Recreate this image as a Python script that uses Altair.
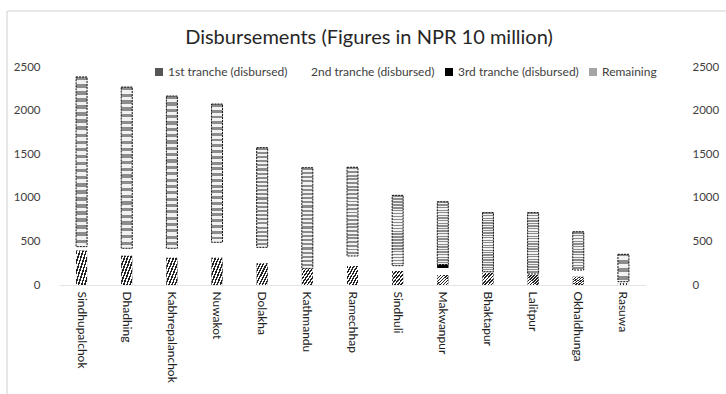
import altair as alt
import pandas as pd

districts = ["Sindhupalchok", "Dhadhing", "Kabhrepalanchok", "Nuwakot", "Dolakha",
             "Kathmandu", "Ramechhap", "Sindhuli", "Makwanpur", "Bhaktapur",
             "Lalitpur", "Okhaldhunga", "Rasuwa"]
first_tranche = [395, 336, 313, 313, 249, 185, 218, 160, 115, 141, 115, 95, 20]
second_tranche = [45, 85, 108, 177, 183, 5, 115, 62, 80, 12, 11, 77, 18]
third_tranche = [0, 0, 0, 0, 0, 0, 0, 0, 40, 0, 0, 0, 0]
remaining = [1946, 1849, 1746, 1585, 1143, 1155, 1017, 806, 720, 677, 704, 439, 314]

series = ["1st tranche (disbursed)", "2nd tranche (disbursed)",
          "3rd tranche (disbursed)", "Remaining"]
y_ticks = [0, 500, 1000, 1500, 2000, 2500]
title_text = "Disbursements (Figures in  NPR 10 million)"

rows = []
for i, d in enumerate(districts):
    for k, (s, vals) in enumerate(zip(series, [first_tranche, second_tranche, third_tranche, remaining])):
        rows.append({"district": d, "series": s, "order": k, "value": vals[i]})
df = pd.DataFrame(rows)

FONT = "Lato"
TXT = "#404040"

def stripes(n, c1, c2, x2, y2):
    stops = []
    for i in range(n):
        c = c1 if i % 2 == 0 else c2
        stops.append({"offset": i / n, "color": c})
        stops.append({"offset": (i + 1) / n, "color": c})
    return {"gradient": "linear", "x1": 0, "y1": 0, "x2": x2, "y2": y2, "stops": stops}

hatch = stripes(14, "#222222", "#ffffff", 1, 1)
hstripes = stripes(48, "#8c8c8c", "#f2f2f2", 0, 1)

base = alt.Chart(df).transform_stack(
    stack="value", groupby=["district"], as_=["v0", "v1"],
    sort=[alt.SortField("order", order="ascending")]
)

xenc = alt.X("district:N", sort=districts, title=None,
             scale=alt.Scale(paddingInner=0.0, paddingOuter=0.0),
             axis=alt.Axis(labelAngle=90, labelFont=FONT, labelFontSize=12,
                           labelColor="#202020", ticks=False, domainColor="#e4e4e4",
                           labelPadding=6, labelAlign="left", labelBaseline="middle"))

yscale = alt.Scale(domain=[0, 2500], nice=False)
left_axis = alt.Axis(values=y_ticks, grid=False, domain=False, ticks=False, format="d",
                     labelFont=FONT, labelFontSize=11.5, labelColor=TXT, labelPadding=19)

def yenc():
    return alt.Y("v0:Q", scale=yscale, title=None, axis=left_axis)

bars = base.mark_bar(size=11).encode(
    x=xenc,
    y=yenc(),
    y2="v1:Q",
    color=alt.Color("series:N", sort=series,
                    scale=alt.Scale(domain=series, range=["#555555", "#ffffff", "#000000", "#a6a6a6"]),
                    legend=alt.Legend(title=None, orient="none", direction="horizontal",
                                      columns=4, legendX=94, legendY=-1,
                                      labelFont=FONT, labelFontSize=12, labelColor=TXT,
                                      symbolType="square", symbolSize=64, labelOffset=3,
                                      columnPadding=8, symbolStrokeWidth=0)),
)

first_overlay = base.transform_filter(alt.datum.series == series[0]).mark_bar(
    size=11, fill=hatch).encode(
    x=alt.X("district:N", sort=districts), y=yenc(), y2="v1:Q")

third_overlay = base.transform_filter(alt.datum.series == series[2]).mark_bar(
    size=11, fill="#000000").encode(
    x=alt.X("district:N", sort=districts), y=yenc(), y2="v1:Q")

rem_overlay = base.transform_filter(alt.datum.series == series[3]).mark_bar(
    size=11, fill=hstripes, stroke="#111111", strokeWidth=1, strokeDash=[2, 1]).encode(
    x=alt.X("district:N", sort=districts), y=yenc(), y2="v1:Q")

right_axis = base.mark_bar(opacity=0).encode(
    x=alt.X("district:N", sort=districts),
    y=alt.Y("v1:Q", scale=yscale, title=None,
            axis=alt.Axis(orient="right", values=y_ticks, grid=False, domain=False, ticks=False,
                          format="d", labelFont=FONT, labelFontSize=11.5, labelColor=TXT,
                          labelPadding=46, labelAlign="left")),
)

one = pd.DataFrame({"k": [0]})
frame_top = alt.Chart(one).mark_rule(color="#d0d0d0", strokeWidth=1).encode(
    x=alt.value(-52), x2=alt.value(700), y=alt.value(-56))
frame_left = alt.Chart(one).mark_rule(color="#d0d0d0", strokeWidth=1).encode(
    x=alt.value(-52), y=alt.value(-56), y2=alt.value(330))
title_mark = alt.Chart(one).mark_text(
    text=title_text, font=FONT, fontSize=20, color="#262626",
    align="center", baseline="middle").encode(
    x=alt.value(310), y=alt.value(-29))

left = alt.layer(bars, first_overlay, third_overlay, rem_overlay)
chart = alt.layer(left, right_axis, frame_top, frame_left, title_mark).resolve_scale(
    y="independent"
).properties(
    width=587, height=218,
    background="white",
    autosize=alt.AutoSizeParams(type="none"),
    padding={"left": 59, "top": 67, "right": 80, "bottom": 109},
).configure_view(strokeWidth=0, stroke="transparent")

chart.save("out.html", embed_options={"renderer": "svg", "actions": False})
